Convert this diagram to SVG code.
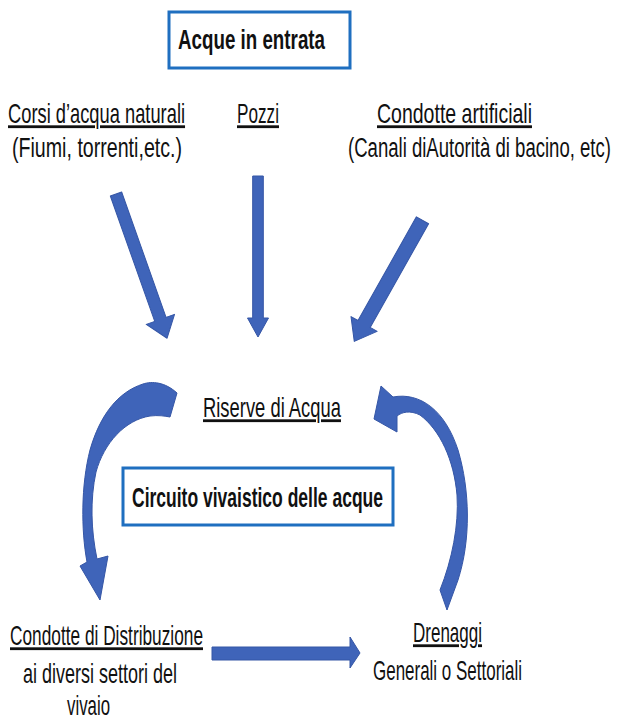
<svg xmlns="http://www.w3.org/2000/svg" width="618" height="720" viewBox="0 0 618 720">
<style>
  .t { font-family: "Liberation Sans", Arial, sans-serif; font-size: 28px; fill: #111; }
  .b { font-weight: bold; font-size: 28px; }
  .u { text-decoration: underline; }
  .box { fill: #fff; stroke: #1F6FC0; stroke-width: 3; }
  .arr { fill: #3F64B9; stroke: #3556A6; stroke-width: 1; stroke-linejoin: round; }
</style>
<rect width="618" height="720" fill="#fff"/>

<g id="acque-in-entrata">
  <rect class="box" x="169" y="12" width="181" height="56"/>
  <text class="t b" transform="translate(178,49) scale(0.7,1)" textLength="210" lengthAdjust="spacingAndGlyphs">Acque in entrata</text>
</g>

<g id="corsi-acqua">
  <text class="t u" transform="translate(8,123) scale(0.7,1)" textLength="252.9" lengthAdjust="spacingAndGlyphs">Corsi d’acqua naturali</text>
  <text class="t" transform="translate(12,157) scale(0.7,1)" textLength="242.9" lengthAdjust="spacingAndGlyphs">(Fiumi, torrenti,etc.)</text>
</g>

<g id="pozzi">
  <text class="t u" transform="translate(237,123) scale(0.7,1)" textLength="60" lengthAdjust="spacingAndGlyphs">Pozzi</text>
</g>

<g id="condotte-artificiali">
  <text class="t u" transform="translate(377,123) scale(0.7,1)" textLength="221.4" lengthAdjust="spacingAndGlyphs">Condotte artificiali</text>
  <text class="t" transform="translate(348,157) scale(0.58,1)" textLength="453.4" lengthAdjust="spacingAndGlyphs">(Canali diAutorità di bacino, etc)</text>
</g>

<g id="riserve-acqua">
  <text class="t u" transform="translate(203,417) scale(0.7,1)" textLength="197.1" lengthAdjust="spacingAndGlyphs">Riserve di Acqua</text>
</g>

<g id="circuito-vivaistico">
  <rect class="box" x="123" y="468" width="270" height="57"/>
  <text class="t b" transform="translate(132,507) scale(0.7,1)" textLength="358.6" lengthAdjust="spacingAndGlyphs">Circuito vivaistico delle acque</text>
</g>

<g id="condotte-distribuzione">
  <text class="t u" transform="translate(10,645) scale(0.7,1)" textLength="275.7" lengthAdjust="spacingAndGlyphs">Condotte di Distribuzione</text>
  <text class="t" transform="translate(23,683) scale(0.7,1)" textLength="220" lengthAdjust="spacingAndGlyphs">ai diversi settori del</text>
  <text class="t" transform="translate(67,715) scale(0.7,1)" textLength="61.4" lengthAdjust="spacingAndGlyphs">vivaio</text>
</g>

<g id="drenaggi">
  <text class="t u" transform="translate(413,642) scale(0.7,1)" textLength="98.6" lengthAdjust="spacingAndGlyphs">Drenaggi</text>
  <text class="t" transform="translate(373,680) scale(0.7,1)" textLength="212.9" lengthAdjust="spacingAndGlyphs">Generali o Settoriali</text>
</g>

<g id="connectors">
  <polygon class="arr" transform="translate(116,194) rotate(70.5)" points="0,-6 133,-6 133,-15 153,0 133,15 133,6 0,6"/>
  <polygon class="arr" transform="translate(258,176) rotate(90)" points="0,-5.3 142,-5.3 142,-10.5 161,0 142,10.5 142,5.3 0,5.3"/>
  <polygon class="arr" transform="translate(422.5,220.3) rotate(119.4)" points="0,-7 119,-7 119,-15 139,0 119,15 119,7 0,7"/>
  <path class="arr" d="M177,393 C165,382 152,381 143,384 C118,392 100,415 90,450 C81,485 81,530 87,562 L80,566 L100,600 L108,556 L97,559 C91,530 90,500 96,472 C104,443 125,420 150,416 C158,415 165,416 170,417 Z"/>
  <path class="arr" d="M393,397 C420,392 445,410 458,450 C470,490 471,540 458,580 L447,610 L440,590 C452,560 459,525 457,495 C454,460 440,430 420,415 C410,410 402,412 397,416 L397,432 L374,419 L381,386 Z"/>
  <polygon class="arr" points="212,647 350,647 350,637 360,653 350,668 350,660 212,660"/>
</g>
</svg>
